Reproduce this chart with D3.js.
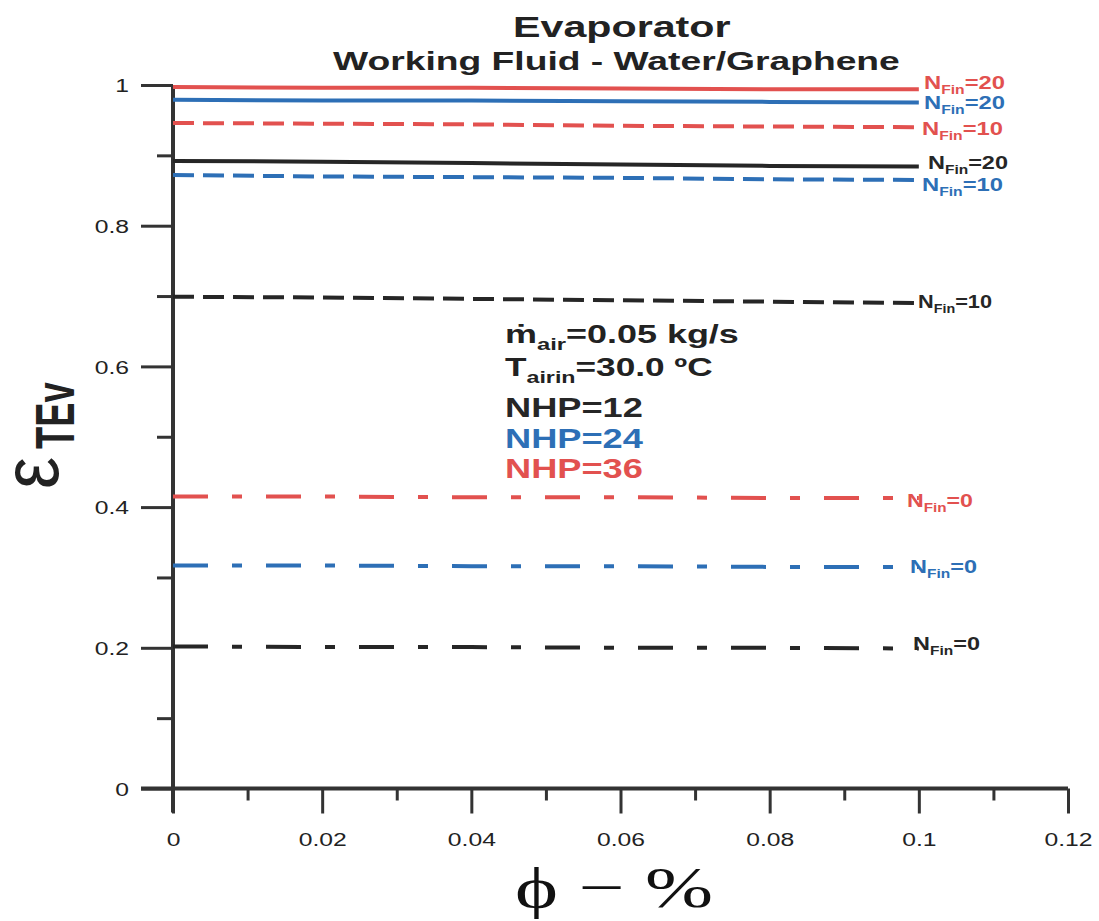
<!DOCTYPE html>
<html>
<head>
<meta charset="utf-8">
<script src="https://cdn.jsdelivr.net/npm/d3@7"></script>
<style>
  body { margin: 0; background: #fff; }
  text { font-family: "Liberation Sans", Arial, sans-serif; }
</style>
</head>
<body>
<svg id="chart" width="1099" height="921"></svg>
<script>
// ─── Data ────────────────────────────────────────────────────────────────────
const PHI = [0, 0.02, 0.04, 0.06, 0.08, 0.1];

const NHP12_FIN20 = [0.892, 0.891, 0.889, 0.887, 0.885, 0.884];
const NHP12_FIN10 = [0.699, 0.698, 0.696, 0.694, 0.692, 0.690];
const NHP12_FIN0  = [0.202, 0.201, 0.201, 0.200, 0.200, 0.199];

const NHP24_FIN20 = [0.979, 0.978, 0.978, 0.977, 0.976, 0.975];
const NHP24_FIN10 = [0.872, 0.870, 0.869, 0.868, 0.866, 0.865];
const NHP24_FIN0  = [0.317, 0.317, 0.316, 0.316, 0.315, 0.315];

const NHP36_FIN20 = [0.997, 0.996, 0.996, 0.995, 0.994, 0.994];
const NHP36_FIN10 = [0.946, 0.945, 0.944, 0.942, 0.941, 0.940];
const NHP36_FIN0  = [0.415, 0.415, 0.414, 0.414, 0.413, 0.413];

const X_TICKS = [0, 0.02, 0.04, 0.06, 0.08, 0.1, 0.12];
const X_MINOR = [0.01, 0.03, 0.05, 0.07, 0.09, 0.11];
const Y_TICKS = [0, 0.2, 0.4, 0.6, 0.8, 1];
const Y_MINOR = [0.1, 0.3, 0.5, 0.7, 0.9];

const SERIES = [
  { nhp: 12, nfin: 20, values: NHP12_FIN20 },
  { nhp: 12, nfin: 10, values: NHP12_FIN10 },
  { nhp: 12, nfin: 0,  values: NHP12_FIN0 },
  { nhp: 24, nfin: 20, values: NHP24_FIN20 },
  { nhp: 24, nfin: 10, values: NHP24_FIN10 },
  { nhp: 24, nfin: 0,  values: NHP24_FIN0 },
  { nhp: 36, nfin: 20, values: NHP36_FIN20 },
  { nhp: 36, nfin: 10, values: NHP36_FIN10 },
  { nhp: 36, nfin: 0,  values: NHP36_FIN0 },
];

// ─── Styling / layout ────────────────────────────────────────────────────────
const COLOR = { 12: '#262626', 24: '#2d6fb6', 36: '#e2514f' };
const DASH  = { 20: null, 10: '21,9', 0: '35,24,10,24' };
const AXIS_COLOR = '#333';

// end-label boxes: [left x, baseline, width, font size]
const END_LABEL = {
  '36-20': [924, 89, 81, 19],
  '24-20': [924, 109, 81, 19],
  '36-10': [922, 135, 81, 19],
  '12-20': [928, 169, 80, 19],
  '24-10': [922, 191, 81, 19],
  '12-10': [918, 308, 74, 18],
  '36-0':  [907, 507, 66, 18],
  '24-0':  [910, 573, 67, 18],
  '12-0':  [913, 650, 67, 18],
};

const x = d3.scaleLinear().domain([0, 0.12]).range([173, 1068]);
const y = d3.scaleLinear().domain([0, 1]).range([788.5, 85]);

const svg = d3.select('#chart');

// Squeeze/stretch a text so it spans exactly `width` px from `x0`.
function fit(textSel, x0, baseline, width) {
  const w = textSel.node().getBBox().width;
  textSel.attr('transform', `translate(${x0},${baseline}) scale(${width / w},1)`);
}

// Text with a subscript part: main, sub, rest
function subText(g, main, sub, rest, size, color, weight) {
  const t = g.append('text')
    .attr('font-size', size)
    .attr('font-weight', weight || 'bold')
    .attr('fill', color);
  t.append('tspan').text(main);
  t.append('tspan').attr('font-size', size * 0.66).attr('dy', size * 0.26).text(sub);
  t.append('tspan').attr('dy', -size * 0.26).text(rest);
  return t;
}

// ─── Axes ────────────────────────────────────────────────────────────────────
const TICK_K = 1.3;

const xAxis = svg.append('g')
  .attr('transform', `translate(0,${y(0)})`)
  .call(d3.axisBottom(x).tickValues(X_TICKS).tickSize(25).tickSizeOuter(0)
    .tickFormat(d => String(+d.toFixed(2))));
xAxis.select('.domain').remove();
xAxis.selectAll('.tick line').attr('stroke', AXIS_COLOR).attr('stroke-width', 3);
xAxis.selectAll('.tick text')
  .attr('y', 0).attr('dy', 0)
  .attr('transform', `translate(0,57) scale(${TICK_K},1)`)
  .attr('font-size', 19).attr('fill', '#222')
  .style('font-family', '"Liberation Sans", Arial, sans-serif');

const xMinor = svg.append('g')
  .attr('transform', `translate(0,${y(0)})`)
  .call(d3.axisBottom(x).tickValues(X_MINOR).tickSize(12).tickFormat(''));
xMinor.select('.domain').remove();
xMinor.selectAll('.tick line').attr('stroke', AXIS_COLOR).attr('stroke-width', 3);

const yAxis = svg.append('g')
  .attr('transform', `translate(${x(0)},0)`)
  .call(d3.axisLeft(y).tickValues(Y_TICKS).tickSize(32).tickSizeOuter(0)
    .tickFormat(d => String(+d.toFixed(1))));
yAxis.select('.domain').remove();
yAxis.selectAll('.tick line').attr('stroke', AXIS_COLOR).attr('stroke-width', 3);
yAxis.selectAll('.tick text')
  .attr('x', -44 / TICK_K).attr('dy', '0.35em')
  .attr('transform', `scale(${TICK_K},1)`)
  .attr('font-size', 19).attr('fill', '#222')
  .style('font-family', '"Liberation Sans", Arial, sans-serif');

const yMinor = svg.append('g')
  .attr('transform', `translate(${x(0)},0)`)
  .call(d3.axisLeft(y).tickValues(Y_MINOR).tickSize(16).tickFormat(''));
yMinor.select('.domain').remove();
yMinor.selectAll('.tick line').attr('stroke', AXIS_COLOR).attr('stroke-width', 3);

// main axis lines (they cross past the origin)
svg.append('line')
  .attr('x1', x(0) - 32).attr('x2', x(0.12))
  .attr('y1', y(0)).attr('y2', y(0))
  .attr('stroke', AXIS_COLOR).attr('stroke-width', 4);
svg.append('line')
  .attr('x1', x(0)).attr('x2', x(0))
  .attr('y1', y(1)).attr('y2', y(0) + 24)
  .attr('stroke', AXIS_COLOR).attr('stroke-width', 4);

// ─── Lines ───────────────────────────────────────────────────────────────────
const line = d3.line()
  .x((d, i) => x(PHI[i]))
  .y(d => y(d));

svg.append('g')
  .attr('fill', 'none')
  .selectAll('path')
  .data(SERIES)
  .join('path')
  .attr('d', d => line(d.values))
  .attr('stroke', d => COLOR[d.nhp])
  .attr('stroke-width', 4)
  .attr('stroke-dasharray', d => DASH[d.nfin]);

// ─── End labels ──────────────────────────────────────────────────────────────
SERIES.forEach(s => {
  const [lx, lb, lw, ls] = END_LABEL[`${s.nhp}-${s.nfin}`];
  const t = subText(svg, 'N', 'Fin', `=${s.nfin}`, ls, COLOR[s.nhp]);
  fit(t, lx, lb, lw);
});

// ─── Titles ──────────────────────────────────────────────────────────────────
const title = svg.append('text')
  .attr('font-size', 30).attr('font-weight', 'bold').attr('fill', '#222')
  .text('Evaporator');
fit(title, 513, 37, 218);

const subtitle = svg.append('text')
  .attr('font-size', 25.5).attr('font-weight', 'bold').attr('fill', '#222')
  .text('Working Fluid - Water/Graphene');
fit(subtitle, 333, 70, 567);

// ─── Annotation block ────────────────────────────────────────────────────────
fit(subText(svg, 'ṁ', 'air', '=0.05 kg/s', 26, '#222'), 505, 343, 234);
fit(subText(svg, 'T', 'airin', '=30.0 ºC', 26, '#222'), 505, 376, 208);
[['NHP=12', COLOR[12], 417], ['NHP=24', COLOR[24], 448], ['NHP=36', COLOR[36], 478]]
  .forEach(([str, c, b]) => {
    const t = svg.append('text')
      .attr('font-size', 27).attr('font-weight', 'bold').attr('fill', c)
      .text(str);
    fit(t, 505, b, 138);
  });

// ─── Axis titles ─────────────────────────────────────────────────────────────
const eps = svg.append('text')
  .attr('font-size', 80).attr('fill', '#222')
  .text('ε');
const epsW = eps.node().getBBox().width;
eps.attr('transform', `translate(58,489) rotate(-90) scale(${32 / epsW},1)`);

const tev = svg.append('text')
  .attr('font-size', 55).attr('font-weight', 'bold').attr('fill', '#222')
  .text('TEv');
const tevW = tev.node().getBBox().width;
tev.attr('transform', `translate(74,449) rotate(-90) scale(${67 / tevW},1)`);

const xTitle = svg.append('text')
  .attr('font-size', 58).attr('fill', '#111')
  .style('font-family', '"Liberation Serif", "Times New Roman", serif')
  .text('ϕ − %');
fit(xTitle, 515, 907, 198);
</script>
</body>
</html>
